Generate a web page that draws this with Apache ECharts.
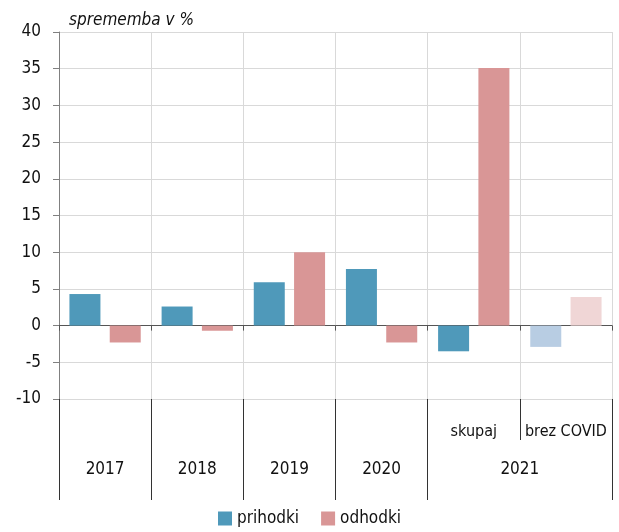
<!DOCTYPE html>
<html>
<head>
<meta charset="utf-8">
<script src="https://cdn.jsdelivr.net/npm/echarts@6/dist/echarts.min.js"></script>
<style>
  html, body { margin: 0; padding: 0; background: #fff; }
  #chart { width: 619px; height: 532px; }
</style>
</head>
<body>
<div id="chart"></div>
<script>
// 数据
const categories = ['2017', '2018', '2019', '2020', '2021 skupaj', '2021 brez COVID'];
const prihodki = [4.3, 2.6, 5.9, 7.7, -3.5, -2.9];
const odhodki = [-2.3, -0.7, 10.0, -2.3, 35.1, 3.9];
const lightIndex = 5; // brez COVID - svetlejše barve
const subLabels = ['skupaj', 'brez COVID'];
const subCenters = [4.5, 5.5];
const subBounds = [0, 1, 2, 3, 4, 5, 6];
const yearLabels = ['2017', '2018', '2019', '2020', '2021'];
const yearCenters = [0.5, 1.5, 2.5, 3.5, 5];
const yearBounds = [0, 1, 2, 3, 4, 6];
const yTicks = { min: -10, max: 40, interval: 5 };

const font = "'Liberation Sans Narrow', 'DejaVu Sans Condensed', sans-serif";
const dom = document.getElementById('chart');
const myChart = echarts.init(dom);

const option = {
    backgroundColor: '#fff',
    textStyle: { fontFamily: font },
    title: {
        text: 'sprememba v %',
        left: 64,
        top: 7,
        textStyle: { fontFamily: font, fontStyle: 'italic', fontWeight: 'normal', fontSize: 17, color: '#111' }
    },
    legend: {
        bottom: 0,
        left: 'center',
        icon: 'rect',
        itemWidth: 14,
        itemHeight: 14,
        itemGap: 22,
        textStyle: { fontFamily: font, fontSize: 17, color: '#111' },
        data: ['prihodki', 'odhodki']
    },
    grid: { left: 59, right: 7, top: 32, bottom: 133, containLabel: false },
    xAxis: [
        {
            type: 'category',
            data: categories,
            axisLine: { onZero: true, lineStyle: { color: '#555', width: 1 } },
            axisTick: { show: true, interval: 0, length: 5, lineStyle: { color: '#555' } },
            axisLabel: { show: false, interval: 0 },
            splitLine: { show: true, interval: 0, lineStyle: { color: '#d9d9d9' } }
        },
        {
            type: 'value',
            position: 'bottom',
            min: 0,
            max: 6,
            axisLine: { show: false, onZero: false },
            axisTick: { show: true, customValues: subBounds, length: 41, lineStyle: { color: '#333' } },
            axisLabel: {
                customValues: subCenters,
                formatter: v => subLabels[subCenters.indexOf(v)],
                margin: 25,
                fontFamily: font, fontSize: 16, color: '#111'
            },
            splitLine: { show: false }
        },
        {
            type: 'value',
            position: 'bottom',
            min: 0,
            max: 6,
            axisLine: { show: false, onZero: false },
            axisTick: { show: true, customValues: yearBounds, length: 101, lineStyle: { color: '#333' } },
            axisLabel: {
                customValues: yearCenters,
                formatter: v => yearLabels[yearCenters.indexOf(v)],
                margin: 62,
                fontFamily: font, fontSize: 17, color: '#111'
            },
            splitLine: { show: false }
        }
    ],
    yAxis: {
        type: 'value',
        min: yTicks.min,
        max: yTicks.max,
        interval: yTicks.interval,
        axisLine: { show: true, lineStyle: { color: '#808080' } },
        axisTick: { show: true, length: 6, lineStyle: { color: '#808080' } },
        axisLabel: { margin: 18, fontFamily: font, fontSize: 17, color: '#111' },
        splitLine: { show: true, lineStyle: { color: '#d9d9d9' } }
    },
    series: [
        {
            name: 'prihodki',
            type: 'bar',
            data: prihodki,
            barWidth: 31,
            barGap: '30%',
            color: '#4f99ba',
            itemStyle: {
                color: p => p.dataIndex === lightIndex ? '#b8cde3' : '#4f99ba'
            }
        },
        {
            name: 'odhodki',
            type: 'bar',
            data: odhodki,
            barWidth: 31,
            barGap: '30%',
            color: '#d99696',
            itemStyle: {
                color: p => p.dataIndex === lightIndex ? '#f0d6d6' : '#d99696'
            }
        }
    ]
};

myChart.setOption(option);
</script>
</body>
</html>
